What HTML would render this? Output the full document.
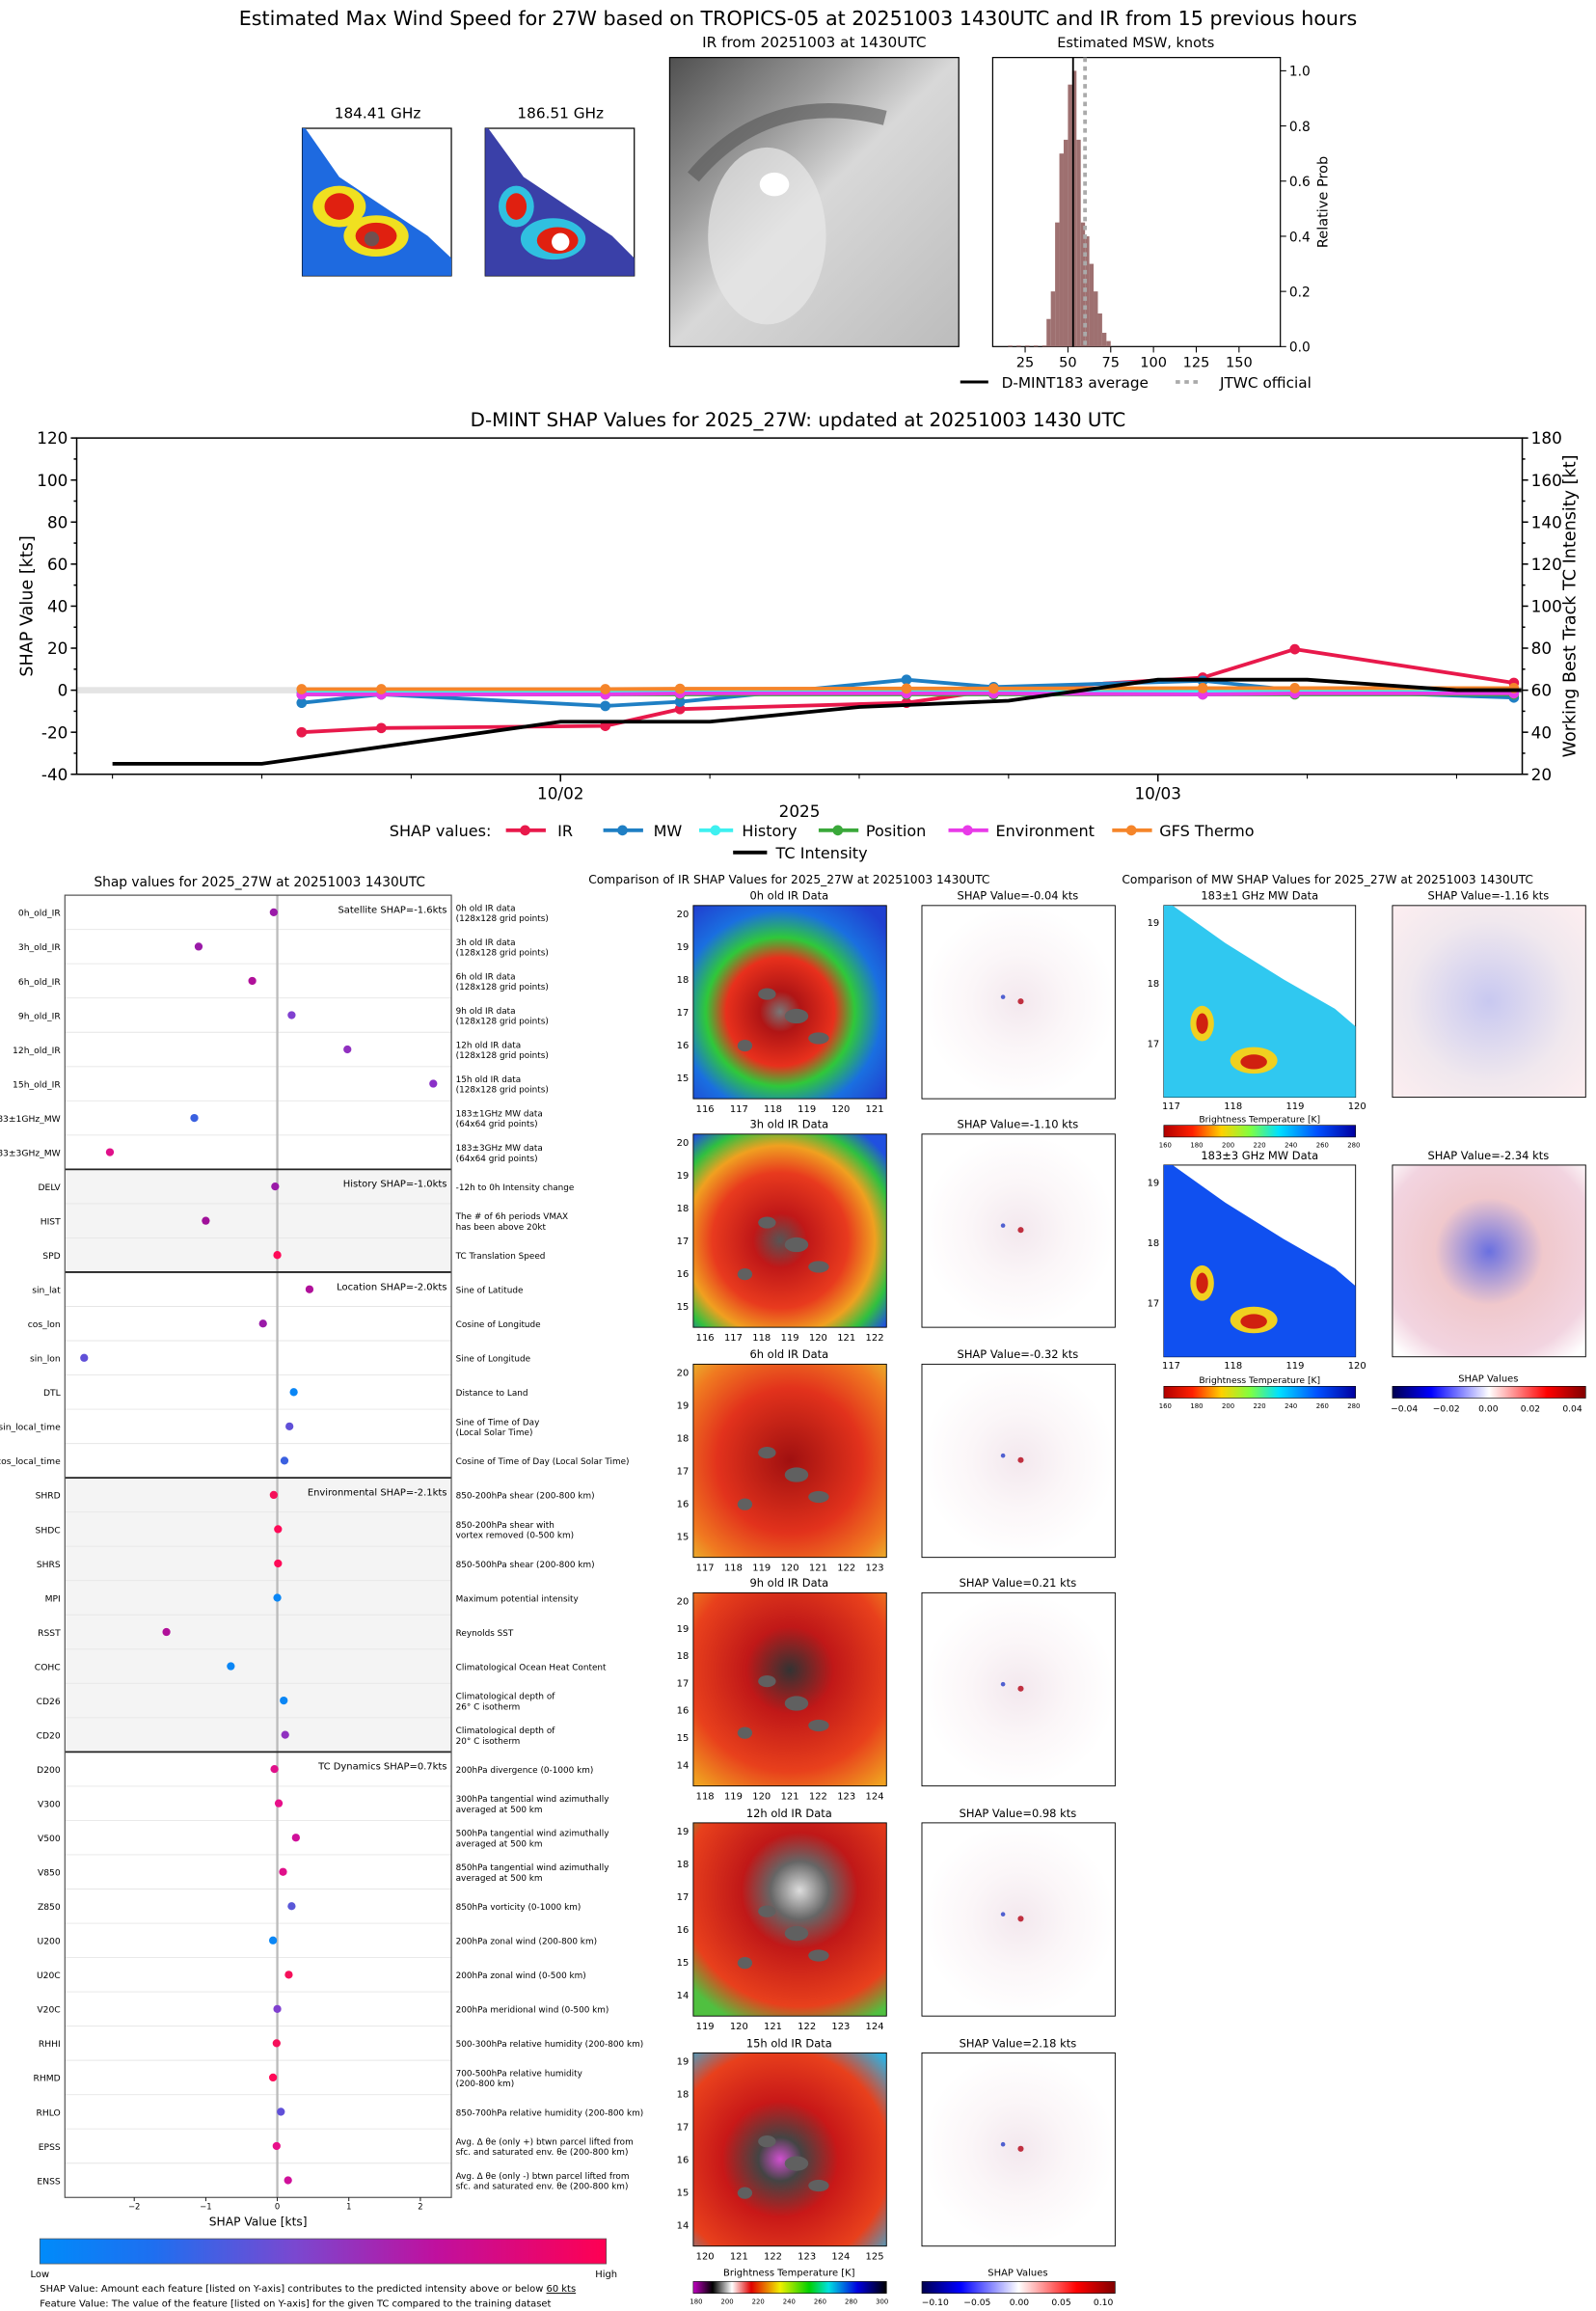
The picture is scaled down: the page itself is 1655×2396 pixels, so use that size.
<!DOCTYPE html>
<html><head><meta charset="utf-8"><title>D-MINT 27W</title>
<style>
html,body{margin:0;padding:0;background:#fff;}
svg{display:block;font-family:"DejaVu Sans","Liberation Sans",sans-serif;}
</style></head>
<body>
<svg id="root" width="1655" height="2396" viewBox="0 0 1082 1567" preserveAspectRatio="none" xmlns="http://www.w3.org/2000/svg">
<defs>
 <radialGradient id="irg1" cx="45%" cy="55%" r="70%"><stop offset="0" stop-color="#777"/><stop offset="0.15" stop-color="#b01515"/><stop offset="0.4" stop-color="#e8301c"/><stop offset="0.55" stop-color="#2fc83a"/><stop offset="0.75" stop-color="#1a6fe0"/><stop offset="1" stop-color="#2040d0"/></radialGradient>
 <radialGradient id="irg2" cx="45%" cy="55%" r="70%"><stop offset="0" stop-color="#555"/><stop offset="0.2" stop-color="#c01818"/><stop offset="0.5" stop-color="#e83a1e"/><stop offset="0.7" stop-color="#f0a020"/><stop offset="0.85" stop-color="#30c040"/><stop offset="1" stop-color="#2050e0"/></radialGradient>
 <radialGradient id="irg3" cx="50%" cy="50%" r="75%"><stop offset="0" stop-color="#a01010"/><stop offset="0.5" stop-color="#e2321c"/><stop offset="0.8" stop-color="#f07a20"/><stop offset="1" stop-color="#e8c030"/></radialGradient>
 <radialGradient id="irg4" cx="50%" cy="40%" r="75%"><stop offset="0" stop-color="#333"/><stop offset="0.3" stop-color="#c01818"/><stop offset="0.7" stop-color="#e8401c"/><stop offset="1" stop-color="#f0a020"/></radialGradient>
 <radialGradient id="irg5" cx="55%" cy="35%" r="75%"><stop offset="0" stop-color="#ddd"/><stop offset="0.2" stop-color="#666"/><stop offset="0.4" stop-color="#c01818"/><stop offset="0.8" stop-color="#e8401c"/><stop offset="1" stop-color="#50c040"/></radialGradient>
 <radialGradient id="irg6" cx="45%" cy="55%" r="75%"><stop offset="0" stop-color="#d050d0"/><stop offset="0.15" stop-color="#444"/><stop offset="0.4" stop-color="#c81818"/><stop offset="0.75" stop-color="#e8401c"/><stop offset="1" stop-color="#30b0e0"/></radialGradient>
 <radialGradient id="shapg" cx="50%" cy="50%" r="50%"><stop offset="0" stop-color="#f3e8ee"/><stop offset="0.5" stop-color="#fbf6f8"/><stop offset="1" stop-color="#fff"/></radialGradient>
 <radialGradient id="mwshap" cx="50%" cy="50%" r="70%"><stop offset="0" stop-color="#c8c8f0"/><stop offset="0.6" stop-color="#f0e8ee"/><stop offset="1" stop-color="#fdeef0"/></radialGradient>
 <radialGradient id="mwshap2" cx="50%" cy="45%" r="70%"><stop offset="0" stop-color="#6a70e0"/><stop offset="0.4" stop-color="#f0c8cc"/><stop offset="0.8" stop-color="#f2d4e0"/><stop offset="1" stop-color="#fff"/></radialGradient>
 <linearGradient id="irgray" x1="0" y1="0" x2="1" y2="1"><stop offset="0" stop-color="#505050"/><stop offset="0.3" stop-color="#9a9a9a"/><stop offset="0.5" stop-color="#d8d8d8"/><stop offset="1" stop-color="#bcbcbc"/></linearGradient>
 <linearGradient id="btcb" x1="0" x2="1"><stop offset="0" stop-color="#c000c0"/><stop offset="0.1" stop-color="#000"/><stop offset="0.2" stop-color="#fff"/><stop offset="0.3" stop-color="#e00000"/><stop offset="0.45" stop-color="#f0f000"/><stop offset="0.6" stop-color="#00d000"/><stop offset="0.7" stop-color="#00e0e0"/><stop offset="0.85" stop-color="#0000e0"/><stop offset="1" stop-color="#000"/></linearGradient>
 <linearGradient id="mwcb" x1="0" x2="1"><stop offset="0" stop-color="#b00000"/><stop offset="0.15" stop-color="#ff2000"/><stop offset="0.3" stop-color="#ffd000"/><stop offset="0.45" stop-color="#80ff40"/><stop offset="0.6" stop-color="#00e0ff"/><stop offset="0.8" stop-color="#0050ff"/><stop offset="1" stop-color="#0000a0"/></linearGradient>
 <linearGradient id="bwr" x1="0" x2="1"><stop offset="0" stop-color="#000050"/><stop offset="0.2" stop-color="#0000ff"/><stop offset="0.5" stop-color="#ffffff"/><stop offset="0.8" stop-color="#ff0000"/><stop offset="1" stop-color="#800000"/></linearGradient>
 <linearGradient id="featcb" x1="0" x2="1"><stop offset="0" stop-color="#008bfa"/><stop offset="0.2" stop-color="#1e6ff0"/><stop offset="0.45" stop-color="#7a48d0"/><stop offset="0.7" stop-color="#c0109e"/><stop offset="1" stop-color="#ff0052"/></linearGradient>
</defs>

<text x="541" y="17" font-size="13.5" text-anchor="middle">Estimated Max Wind Speed for 27W based on TROPICS-05 at 20251003 1430UTC and IR from 15 previous hours</text>

<g>
 <text x="256" y="80" font-size="10" text-anchor="middle">184.41 GHz</text>
 <rect x="205" y="87" width="101" height="100" fill="#fff" stroke="#000" stroke-width="0.8"/>
 <polygon points="205,87 207,87 230,120 260,140 290,160 306,175 306,187 205,187" fill="#1e6ae0"/>
 <ellipse cx="230" cy="140" rx="18" ry="14" fill="#f0e020"/>
 <ellipse cx="255" cy="160" rx="22" ry="14" fill="#f0e020"/>
 <ellipse cx="230" cy="140" rx="10" ry="9" fill="#e02010"/>
 <ellipse cx="255" cy="160" rx="14" ry="9" fill="#e02010"/>
 <ellipse cx="252" cy="162" rx="5" ry="5" fill="#705050"/>
</g>
<g>
 <text x="380" y="80" font-size="10" text-anchor="middle">186.51 GHz</text>
 <rect x="329" y="87" width="101" height="100" fill="#fff" stroke="#000" stroke-width="0.8"/>
 <polygon points="329,87 331,87 355,120 385,140 415,160 430,175 430,187 329,187" fill="#3a40a8"/>
 <ellipse cx="350" cy="140" rx="12" ry="14" fill="#30c0e0"/>
 <ellipse cx="375" cy="162" rx="22" ry="14" fill="#30c0e0"/>
 <ellipse cx="350" cy="140" rx="7" ry="9" fill="#e02010"/>
 <ellipse cx="378" cy="163" rx="14" ry="9" fill="#e02010"/>
 <ellipse cx="380" cy="164" rx="6" ry="6" fill="#fff"/>
</g>
<g>
 <text x="552" y="32" font-size="10" text-anchor="middle">IR from 20251003 at 1430UTC</text>
 <rect x="454" y="39" width="196" height="196" fill="url(#irgray)" stroke="#000" stroke-width="0.8"/>
 <ellipse cx="520" cy="160" rx="40" ry="60" fill="#e8e8e8" opacity="0.7"/>
 <ellipse cx="525" cy="125" rx="10" ry="8" fill="#fff"/>
 <path d="M470,120 Q520,60 600,80" stroke="#555" stroke-width="10" fill="none" opacity="0.6"/>
</g>

<g id="hist">
 <text x="770" y="32" font-size="9.5" text-anchor="middle">Estimated MSW, knots</text>
</g>
<g>
 <line x1="651" y1="259" x2="670" y2="259" stroke="#000" stroke-width="2"/>
 <text x="679" y="263" font-size="10">D-MINT183 average</text>
 <line x1="797" y1="259" x2="815" y2="259" stroke="#aaa" stroke-width="2.5" stroke-dasharray="3,3"/>
 <text x="827" y="263" font-size="10">JTWC official</text>
</g>

<g id="shapts">
 <text x="541" y="289" font-size="13" text-anchor="middle">D-MINT SHAP Values for 2025_27W: updated at 20251003 1430 UTC</text>
</g>
<g font-size="10.5">
 <text x="264" y="567">SHAP values:</text>
 <line x1="343" y1="563" x2="370" y2="563" stroke="#e8194b" stroke-width="2.5"/><circle cx="356" cy="563" r="3.5" fill="#e8194b"/><text x="378" y="567">IR</text>
 <line x1="409" y1="563" x2="436" y2="563" stroke="#1f7fc4" stroke-width="2.5"/><circle cx="422" cy="563" r="3.5" fill="#1f7fc4"/><text x="443" y="567">MW</text>
 <line x1="474" y1="563" x2="497" y2="563" stroke="#3ef0f0" stroke-width="2.5"/><circle cx="485" cy="563" r="3.5" fill="#3ef0f0"/><text x="503" y="567">History</text>
 <line x1="555" y1="563" x2="582" y2="563" stroke="#3aa83a" stroke-width="2.5"/><circle cx="568" cy="563" r="3.5" fill="#3aa83a"/><text x="587" y="567">Position</text>
 <line x1="643" y1="563" x2="670" y2="563" stroke="#e83ae8" stroke-width="2.5"/><circle cx="656" cy="563" r="3.5" fill="#e83ae8"/><text x="675" y="567">Environment</text>
 <line x1="754" y1="563" x2="781" y2="563" stroke="#f5852a" stroke-width="2.5"/><circle cx="767" cy="563" r="3.5" fill="#f5852a"/><text x="786" y="567">GFS Thermo</text>
 <line x1="497" y1="578" x2="520" y2="578" stroke="#000" stroke-width="2.5"/><text x="526" y="582">TC Intensity</text>
</g>

<g id="feat">
 <text x="176" y="601" font-size="9" text-anchor="middle">Shap values for 2025_27W at 20251003 1430UTC</text>
</g>

<g id="irgrid">
 <text x="535" y="599" font-size="8" text-anchor="middle">Comparison of IR SHAP Values for 2025_27W at 20251003 1430UTC</text>
</g>
<g id="mwgrid">
 <text x="900" y="599" font-size="8" text-anchor="middle">Comparison of MW SHAP Values for 2025_27W at 20251003 1430UTC</text>
</g>

<g>
 <rect x="27" y="1518" width="384" height="17" fill="url(#featcb)" stroke="#555" stroke-width="0.5"/>
 <text x="27" y="1544" font-size="6.5" text-anchor="middle">Low</text>
 <text x="411" y="1544" font-size="6.5" text-anchor="middle">High</text>
 <text x="27" y="1554" font-size="6.5">SHAP Value: Amount each feature [listed on Y-axis] contributes to the predicted intensity above or below <tspan text-decoration="underline">60 kts</tspan></text>
 <text x="27" y="1564" font-size="6.5">Feature Value: The value of the feature [listed on Y-axis] for the given TC compared to the training dataset</text>
</g>
</svg>

<script>
const NS='http://www.w3.org/2000/svg';
function mk(tag,attrs,parent){const e=document.createElementNS(NS,tag);for(const k in attrs)e.setAttribute(k,attrs[k]);parent.appendChild(e);return e;}
function tx(str,attrs,parent){const e=mk('text',attrs,parent);e.textContent=str;return e;}

/* ---------- Histogram ---------- */
const histBins=[15,20,25,30,35,37.5,40,42.5,45,47.5,50,52.5,55,57.5,60,62.5,65,67.5,70,72.5];
const histProb=[0.004,0.004,0.004,0.004,0.004,0.1,0.2,0.45,0.7,0.75,0.95,1.0,0.75,0.45,0.4,0.3,0.2,0.12,0.05,0.02];
const histTicksX=[25,50,75,100,125,150];
const histTicksY=[0.0,0.2,0.4,0.6,0.8,1.0];
const mswAvg=53;
const jtwc=60;
(function(){
 const g=document.getElementById('hist');
 const hx=v=>666+1.16*v, hy=p=>235-187*p;
 const ax=mk('rect',{x:673,y:39,width:195,height:196,fill:'none',stroke:'#000','stroke-width':0.8},g);
 
 
 histBins.forEach((b,i)=>{
  const r=mk('rect',{x:hx(b),y:hy(histProb[i]),width:1.16*2.5,height:235-hy(histProb[i]),fill:'#9e7070'},g);
  
  
 });
 const l1=mk('line',{x1:hx(mswAvg),x2:hx(mswAvg),y1:39,y2:235,stroke:'#000','stroke-width':1.2},g);
 
 
 const l2=mk('line',{x1:hx(jtwc),x2:hx(jtwc),y1:39,y2:235,stroke:'#aaa','stroke-width':2.5,'stroke-dasharray':'3,3'},g);
 
 
 histTicksX.forEach(t=>{mk('line',{x1:hx(t),x2:hx(t),y1:235,y2:239,stroke:'#000','stroke-width':0.7},g);
  tx(String(t),{x:hx(t),y:249,'font-size':9.5,'text-anchor':'middle'},g);});
 histTicksY.forEach(t=>{mk('line',{x1:868,x2:872,y1:hy(t),y2:hy(t),stroke:'#000','stroke-width':0.7},g);
  tx(t.toFixed(1),{x:874,y:hy(t)+3.5,'font-size':9},g);});
 tx('Relative Prob',{x:900,y:137,'font-size':9.5,'text-anchor':'middle',transform:'rotate(-90 900 137)'},g);
})();

/* ---------- SHAP time series ---------- */
const tsHours=[13.6,16.8,25.8,28.8,37.9,41.4,49.8,53.5,62.3];
const shapIR=[-20,-18,-17,-9,-6,0,6,19.5,3.5];
const shapMW=[-6,-2,-7.5,-5.5,5,1.5,4.5,0,-3.5];
const shapHist=[-1,-1,-1,-1,-0.5,-0.5,-0.5,-0.5,-1];
const shapPos=[-2,-2,-2,-2,-2,-2,-2,-2,-2];
const shapEnv=[-2,-2,-2,-1.5,-1.5,-1.5,-2,-1.5,-1.5];
const shapGFS=[0.5,0.5,0.5,0.7,0.8,0.8,1,1,1];
const tcHours=[6,12,24,30,36,42,48,54,60,62.6];
const tcIntensity=[25,25,45,45,52,55,65,65,60,60];
const tsLeftTicks=[-40,-20,0,20,40,60,80,100,120];
const tsRightTicks=[20,40,60,80,100,120,140,160,180];
const tsDateTicks=[{h:24,l:'10/02'},{h:48,l:'10/03'}];
(function(){
 const g=document.getElementById('shapts');
 const X0=52,X1=1032,Y0=297,Y1=525;
 const x=h=>380+(h-24)*16.875;
 const y=v=>525-(v+40)*1.425;
 const yr=v=>525-(v-20)*1.425;
 mk('rect',{x:X0,y:y(1.5),width:X1-X0,height:y(-1.5)-y(1.5),fill:'#e4e4e4'},g);
 const ax=mk('rect',{x:X0,y:Y0,width:X1-X0,height:Y1-Y0,fill:'none',stroke:'#000','stroke-width':1},g);
 
 
 tsLeftTicks.forEach(t=>{mk('line',{x1:X0-4,x2:X0,y1:y(t),y2:y(t),stroke:'#000'},g);
  tx(String(t),{x:X0-6,y:y(t)+4,'font-size':11,'text-anchor':'end'},g);
  if(t<120)mk('line',{x1:X0-2,x2:X0,y1:y(t+10),y2:y(t+10),stroke:'#000'},g);});
 tsRightTicks.forEach(t=>{mk('line',{x1:X1,x2:X1+4,y1:yr(t),y2:yr(t),stroke:'#000'},g);
  tx(String(t),{x:X1+6,y:yr(t)+4,'font-size':11},g);
  if(t<180)mk('line',{x1:X1,x2:X1+2,y1:yr(t+10),y2:yr(t+10),stroke:'#000'},g);});
 for(let h=6;h<=60;h+=6){mk('line',{x1:x(h),x2:x(h),y1:Y1,y2:Y1+3,stroke:'#000','stroke-width':0.7},g);}
 tsDateTicks.forEach(d=>{mk('line',{x1:x(d.h),x2:x(d.h),y1:Y1,y2:Y1+5,stroke:'#000'},g);
  tx(d.l,{x:x(d.h),y:Y1+17,'font-size':11,'text-anchor':'middle'},g);});
 tx('2025',{x:542,y:554,'font-size':11,'text-anchor':'middle'},g);
 tx('SHAP Value [kts]',{x:22,y:411,'font-size':11.5,'text-anchor':'middle',transform:'rotate(-90 22 411)'},g);
 tx('Working Best Track TC Intensity [kt]',{x:1068,y:411,'font-size':11.5,'text-anchor':'middle',transform:'rotate(-90 1068 411)'},g);
 const series=[['ir',shapIR,'#e8194b'],['mw',shapMW,'#1f7fc4'],['history',shapHist,'#3ef0f0'],['position',shapPos,'#3aa83a'],['environment',shapEnv,'#e83ae8'],['gfs-thermo',shapGFS,'#f5852a']];
 series.forEach(s=>{
  const pts=s[1].map((v,i)=>x(tsHours[i])+','+y(v)).join(' ');
  const pl=mk('polyline',{points:pts,fill:'none',stroke:s[2],'stroke-width':2.5},g);
  
  
  s[1].forEach((v,i)=>{const c=mk('circle',{cx:x(tsHours[i]),cy:y(v),r:3.5,fill:s[2]},g);
   
   });
 });
 const tp=tcIntensity.map((v,i)=>x(tcHours[i])+','+yr(v)).join(' ');
 const tl=mk('polyline',{points:tp,fill:'none',stroke:'#000','stroke-width':2.5},g);
 
 
})();

/* ---------- Feature SHAP panel ---------- */
const featNames=['0h_old_IR','3h_old_IR','6h_old_IR','9h_old_IR','12h_old_IR','15h_old_IR','183±1GHz_MW','183±3GHz_MW','DELV','HIST','SPD','sin_lat','cos_lon','sin_lon','DTL','sin_local_time','cos_local_time','SHRD','SHDC','SHRS','MPI','RSST','COHC','CD26','CD20','D200','V300','V500','V850','Z850','U200','U20C','V20C','RHHI','RHMD','RHLO','EPSS','ENSS'];
const featShap=[-0.05,-1.1,-0.35,0.2,0.98,2.18,-1.16,-2.34,-0.03,-1.0,0.0,0.45,-0.2,-2.7,0.23,0.17,0.1,-0.05,0.01,0.01,0.0,-1.55,-0.65,0.09,0.11,-0.04,0.02,0.26,0.08,0.2,-0.06,0.16,0.0,-0.01,-0.06,0.05,-0.01,0.15];
const featColor=['#9a1aa8','#9a1aa8','#b0109a','#8040d0','#9030c0','#8a30c8','#3a60e0','#e0108a','#9a1aa8','#a0109a','#ff0a58','#b0109a','#9a1aa8','#6050d8','#0a86f5','#6050d8','#3a60e0','#f5105a','#ff0a58','#ff0a58','#0a86f5','#b0109a','#0a86f5','#0a86f5','#9030c0','#e0108a','#e8108a','#d0109a','#e0108a','#5a58d8','#0a86f5','#f5105a','#8040d0','#f5105a','#ff0a58','#6050d8','#e8108a','#d0109a'];
const featDesc=[['0h old IR data','(128x128 grid points)'],['3h old IR data','(128x128 grid points)'],['6h old IR data','(128x128 grid points)'],['9h old IR data','(128x128 grid points)'],['12h old IR data','(128x128 grid points)'],['15h old IR data','(128x128 grid points)'],['183±1GHz MW data','(64x64 grid points)'],['183±3GHz MW data','(64x64 grid points)'],['-12h to 0h Intensity change'],['The # of 6h periods VMAX','has been above 20kt'],['TC Translation Speed'],['Sine of Latitude'],['Cosine of Longitude'],['Sine of Longitude'],['Distance to Land'],['Sine of Time of Day','(Local Solar Time)'],['Cosine of Time of Day (Local Solar Time)'],['850-200hPa shear (200-800 km)'],['850-200hPa shear with','vortex removed (0-500 km)'],['850-500hPa shear (200-800 km)'],['Maximum potential intensity'],['Reynolds SST'],['Climatological Ocean Heat Content'],['Climatological depth of','26° C isotherm'],['Climatological depth of','20° C isotherm'],['200hPa divergence (0-1000 km)'],['300hPa tangential wind azimuthally','averaged at 500 km'],['500hPa tangential wind azimuthally','averaged at 500 km'],['850hPa tangential wind azimuthally','averaged at 500 km'],['850hPa vorticity (0-1000 km)'],['200hPa zonal wind (200-800 km)'],['200hPa zonal wind (0-500 km)'],['200hPa meridional wind (0-500 km)'],['500-300hPa relative humidity (200-800 km)'],['700-500hPa relative humidity','(200-800 km)'],['850-700hPa relative humidity (200-800 km)'],['Avg. Δ θe (only +) btwn parcel lifted from','sfc. and saturated env. θe (200-800 km)'],['Avg. Δ θe (only -) btwn parcel lifted from','sfc. and saturated env. θe (200-800 km)']];
const groupBreaks=[8,11,17,25];
const groupLabels=['Satellite SHAP=-1.6kts','History SHAP=-1.0kts','Location SHAP=-2.0kts','Environmental SHAP=-2.1kts','TC Dynamics SHAP=0.7kts'];
const featTicks=[-2,-1,0,1,2];
(function(){
 const g=document.getElementById('feat');
 const L=44,R=306,T=607,B=1490,rowH=(B-T)/featNames.length;
 const fx=v=>188+48.5*v;
 const starts=[0].concat(groupBreaks), ends=groupBreaks.concat([featNames.length]);
 starts.forEach((s,i)=>{
  if(i===1||i===3)mk('rect',{x:L,y:T+s*rowH,width:R-L,height:(ends[i]-s)*rowH,fill:'#f4f4f4'},g);
 });
 for(let i=1;i<featNames.length;i++)mk('line',{x1:L,x2:R,y1:T+i*rowH,y2:T+i*rowH,stroke:'#e6e6e6','stroke-width':0.6},g);
 mk('line',{x1:fx(0),x2:fx(0),y1:T,y2:B,stroke:'#bbb','stroke-width':1.5},g);
 starts.forEach((s,i)=>{
  const lb=tx(groupLabels[i],{x:R-3,y:T+s*rowH+12,'font-size':6.5,'text-anchor':'end'},g);
  
  
 });
 groupBreaks.forEach(b=>mk('line',{x1:L,x2:R,y1:T+b*rowH,y2:T+b*rowH,stroke:'#222','stroke-width':1.2},g));
 const ax=mk('rect',{x:L,y:T,width:R-L,height:B-T,fill:'none',stroke:'#555','stroke-width':0.8},g);
 
 
 featNames.forEach((n,i)=>{
  const cy=T+(i+0.5)*rowH;
  tx(n,{x:L-3,y:cy+2.5,'font-size':6,'text-anchor':'end'},g);
  const d=featDesc[i];
  if(d.length===1)tx(d[0],{x:R+3,y:cy+2.5,'font-size':5.8},g);
  else{tx(d[0],{x:R+3,y:cy-1,'font-size':5.8},g);tx(d[1],{x:R+3,y:cy+6,'font-size':5.8},g);}
  const c=mk('circle',{cx:fx(featShap[i]),cy:cy,r:2.7,fill:featColor[i]},g);
  
  
 });
 featTicks.forEach(t=>{mk('line',{x1:fx(t),x2:fx(t),y1:B,y2:B+2.5,stroke:'#000','stroke-width':0.6},g);
  tx(t<0?'−'+(-t):String(t),{x:fx(t),y:B+8,'font-size':5.5,'text-anchor':'middle'},g);});
 tx('SHAP Value [kts]',{x:175,y:B+19,'font-size':8,'text-anchor':'middle'},g);
})();

/* ---------- IR comparison grid ---------- */
const irTitles=['0h old IR Data','3h old IR Data','6h old IR Data','9h old IR Data','12h old IR Data','15h old IR Data'];
const irShapVals=['-0.04','-1.10','-0.32','0.21','0.98','2.18'];
const irXLabels=[[116,117,118,119,120,121],[116,117,118,119,120,121,122],[117,118,119,120,121,122,123],[118,119,120,121,122,123,124],[119,120,121,122,123,124],[120,121,122,123,124,125]];
const irYLabels=[[15,16,17,18,19,20],[15,16,17,18,19,20],[15,16,17,18,19,20],[14,15,16,17,18,19,20],[14,15,16,17,18,19],[14,15,16,17,18,19]];
(function(){
 const g=document.getElementById('irgrid');
 const rows=[614,769,925,1080,1236,1392], S=131;
 rows.forEach((y0,i)=>{
  tx(irTitles[i],{x:535,y:y0-4,'font-size':7.5,'text-anchor':'middle'},g);
  const r=mk('rect',{x:470,y:y0,width:S,height:S,fill:'url(#irg'+(i+1)+')',stroke:'#000','stroke-width':0.6},g);
  
  
  [[520,y0+60,6,4],[540,y0+75,8,5],[505,y0+95,5,4],[555,y0+90,7,4]].forEach(e=>mk('ellipse',{cx:e[0],cy:e[1],rx:e[2],ry:e[3],fill:'#606060'},g));
  const xs=irXLabels[i], ys=irYLabels[i];
  xs.forEach((v,k)=>tx(String(v),{x:470+8+k*(S-16)/(xs.length-1),y:y0+S+9,'font-size':6.5,'text-anchor':'middle'},g));
  ys.forEach((v,k)=>tx(String(v),{x:467,y:y0+S-12-k*(S-20)/(ys.length-1),'font-size':6.5,'text-anchor':'end'},g));
  tx('SHAP Value='+irShapVals[i]+' kts',{x:690,y:y0-4,'font-size':7.5,'text-anchor':'middle'},g);
  const s=mk('rect',{x:625,y:y0,width:S,height:S,fill:'url(#shapg)',stroke:'#000','stroke-width':0.6},g);
  
  
  mk('circle',{cx:692,cy:y0+65,r:2,fill:'#c03040'},g);
  mk('circle',{cx:680,cy:y0+62,r:1.5,fill:'#5060d0'},g);
 });
 mk('rect',{x:470,y:1547,width:131,height:8,fill:'url(#btcb)',stroke:'#000','stroke-width':0.4},g);
 tx('Brightness Temperature [K]',{x:535,y:1543,'font-size':6.5,'text-anchor':'middle'},g);
 [180,200,220,240,260,280,300].forEach((t,k)=>tx(String(t),{x:472+k*21,y:1562,'font-size':4.5,'text-anchor':'middle'},g));
 mk('rect',{x:625,y:1547,width:131,height:8,fill:'url(#bwr)',stroke:'#000','stroke-width':0.4},g);
 tx('SHAP Values',{x:690,y:1543,'font-size':6.5,'text-anchor':'middle'},g);
 ['−0.10','−0.05','0.00','0.05','0.10'].forEach((t,k)=>tx(t,{x:634+k*28.5,y:1563,'font-size':6,'text-anchor':'middle'},g));
})();

/* ---------- MW comparison grid ---------- */
const mwTitles=['183±1 GHz MW Data','183±3 GHz MW Data'];
const mwShapVals=['-1.16','-2.34'];
const mwXLabels=[117,118,119,120];
const mwYLabels=[[17,18,19],[17,18,19]];
(function(){
 const g=document.getElementById('mwgrid');
 const rows=[614,790], S=130;
 rows.forEach((y0,i)=>{
  tx(mwTitles[i],{x:854,y:y0-4,'font-size':7.5,'text-anchor':'middle'},g);
  const r=mk('rect',{x:789,y:y0,width:S,height:S,fill:'#fff',stroke:'#000','stroke-width':0.6},g);
  
  
  mk('polygon',{points:`789,${y0} 795,${y0} 830,${y0+25} 870,${y0+50} 905,${y0+70} 919,${y0+82} 919,${y0+S} 789,${y0+S}`,fill:i===0?'#30c8f0':'#1050f0'},g);
  mk('ellipse',{cx:815,cy:y0+80,rx:8,ry:12,fill:'#f0d020'},g);
  mk('ellipse',{cx:850,cy:y0+105,rx:16,ry:9,fill:'#f0d020'},g);
  mk('ellipse',{cx:815,cy:y0+80,rx:4,ry:7,fill:'#d02010'},g);
  mk('ellipse',{cx:850,cy:y0+106,rx:9,ry:5,fill:'#d02010'},g);
  mwXLabels.forEach((v,k)=>tx(String(v),{x:794+k*42,y:y0+S+8,'font-size':6.5,'text-anchor':'middle'},g));
  mwYLabels[i].forEach((v,k)=>tx(String(v),{x:786,y:y0+96-k*41,'font-size':6.5,'text-anchor':'end'},g));
  tx('SHAP Value='+mwShapVals[i]+' kts',{x:1009,y:y0-4,'font-size':7.5,'text-anchor':'middle'},g);
  const s=mk('rect',{x:944,y:y0,width:S+1,height:S,fill:i===0?'url(#mwshap)':'url(#mwshap2)',stroke:'#000','stroke-width':0.6},g);
  
  
  const cbY=i===0?763:940;
  mk('rect',{x:789,y:cbY,width:130,height:8,fill:'url(#mwcb)',stroke:'#000','stroke-width':0.4},g);
  tx('Brightness Temperature [K]',{x:854,y:cbY-2,'font-size':6,'text-anchor':'middle'},g);
  [160,180,200,220,240,260,280].forEach((t,k)=>tx(String(t),{x:790+k*21.3,y:cbY+15,'font-size':4.5,'text-anchor':'middle'},g));
 });
 mk('rect',{x:944,y:940,width:131,height:8,fill:'url(#bwr)',stroke:'#000','stroke-width':0.4},g);
 tx('SHAP Values',{x:1009,y:937,'font-size':6.5,'text-anchor':'middle'},g);
 ['−0.04','−0.02','0.00','0.02','0.04'].forEach((t,k)=>tx(t,{x:952+k*28.5,y:957,'font-size':6,'text-anchor':'middle'},g));
})();
</script>
</body></html>
